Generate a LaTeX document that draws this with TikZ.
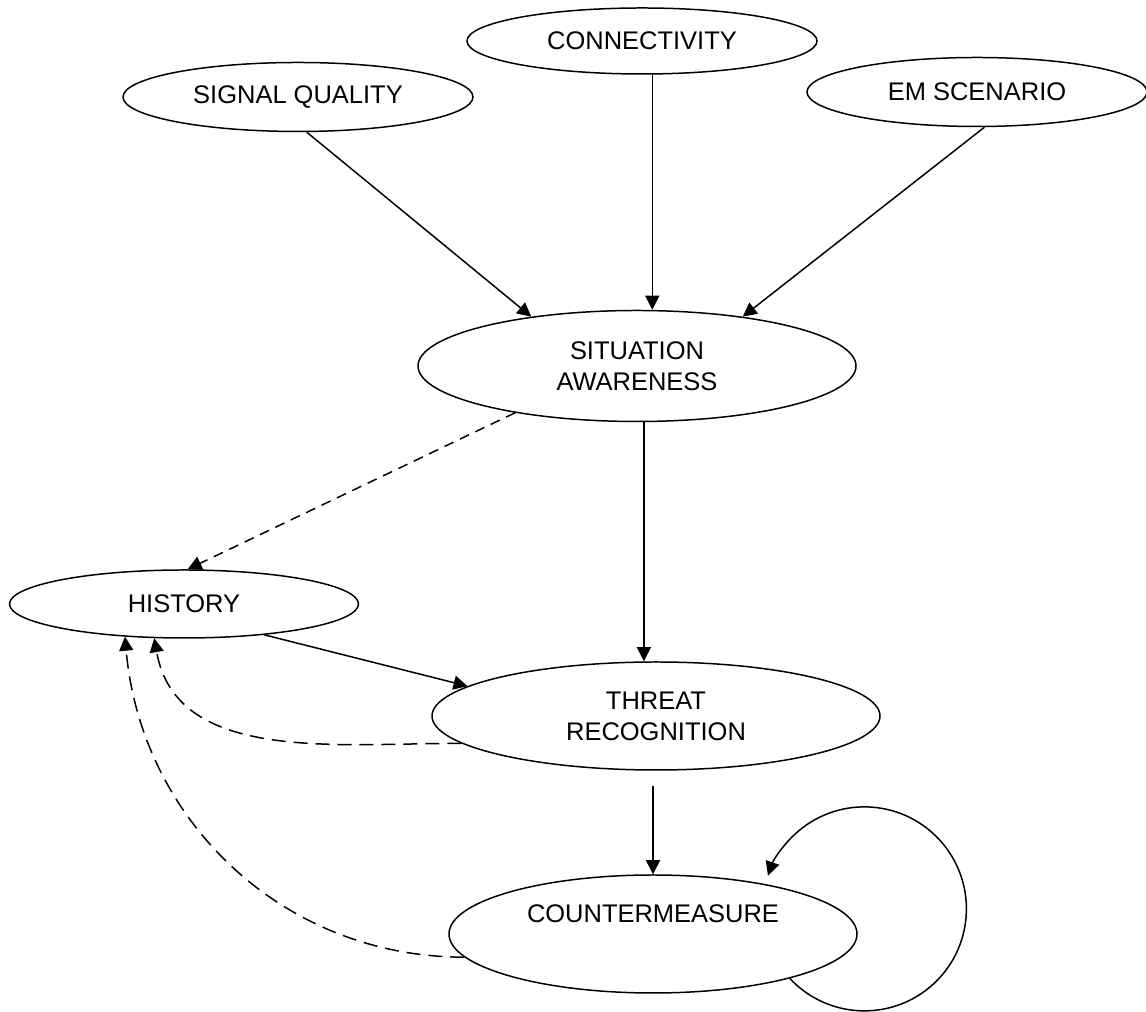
\documentclass[tikz,border=0pt]{standalone}
\usepackage{fontspec}
\setmainfont{Liberation Sans}
\usepackage{tikz}
\usetikzlibrary{shapes.geometric}
\usetikzlibrary{arrows.meta}

\begin{document}
\begin{tikzpicture}[x=0.2mm,y=0.2mm,line width=0.85pt,
  every node/.style={font=\fontsize{14.5}{17.6}\selectfont},
  oval/.style={draw,ellipse,inner sep=0pt,align=center},
  arr/.style={-{Triangle[length=0.28cm,width=0.28cm]}},
  dash short/.style={dash pattern=on 5.7pt off 4pt},
  dash long/.style={dash pattern=on 8pt off 4.5pt}]
  \useasboundingbox (0,0) rectangle (1146,1012);
  %inputs
  \node[oval,minimum width=7cm,minimum height=1.38cm] (sq) at (298,915) {SIGNAL QUALITY};
  \node[oval,minimum width=7cm,minimum height=1.32cm] (con) at (642,971) {CONNECTIVITY};
  \node[oval,minimum width=6.8cm,minimum height=1.38cm] (em) at (977,920) {EM SCENARIO};
  %middle
  \node[oval,minimum width=8.76cm,minimum height=2.22cm] (sa) at (637,646) {SITUATION\\AWARENESS};
  \node[oval,minimum width=6.98cm,minimum height=1.36cm] (hist) at (184,408) {HISTORY};
  \node[oval,minimum width=8.96cm,minimum height=2.16cm] (thr) at (656,296) {THREAT\\RECOGNITION};
  %bottom
  \node[oval,minimum width=8.16cm,minimum height=2.36cm,label={[yshift=0.4cm]center:COUNTERMEASURE}] (cm) at (653,78) {};
  %arrows into situation awareness
  \draw[arr] (sq.-76) -- (sa.155);
  \draw[arr] (con.-73) -- (con.-73 |- sa.north);
  \draw[arr] (em.-78) -- (sa.25);
  %down the chain
  \draw[arr] (sa.-83) -- (sa.-83 |- thr.north);
  \draw[arr] (hist.-21) -- (thr.171);
  \draw[arr,shorten <=0.3cm] (cm.north |- thr.south) -- (cm.north);
  %feedback to history
  \draw[arr,dash short] (sa.201.5) -- (hist.84);
  \draw[arr,dash long] (thr.188) to[out=180,in=-80] (hist.-131);
  \draw[arr,dash long] (cm.187) to[out=180,in=-85] (hist.-151);
  %loop
  \draw[arr] (cm.-18) arc[start angle=-137,end angle=161,radius=2.04cm];
\end{tikzpicture}
\end{document}
